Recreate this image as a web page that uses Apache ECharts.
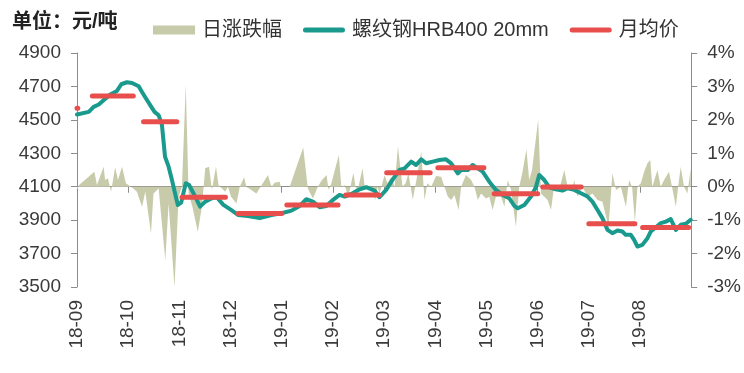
<!DOCTYPE html>
<html>
<head>
<meta charset="utf-8">
<script src="https://cdn.jsdelivr.net/npm/echarts@6/dist/echarts.min.js"></script>
<style>
html,body{margin:0;padding:0;background:#fff;}
#chart{width:744px;height:373px;}
</style>
</head>
<body>
<div id="chart"></div>
<script>
// x positions are trading-day indices (0..240), tick every 20 trading days
var tickLabels = ['18-09','18-10','18-11','18-12','19-01','19-02','19-03','19-04','19-05','19-06','19-07','19-08',''];

// 螺纹钢HRB400 20mm price (元/吨)
var priceIdx = [0,4.6,6.5,8.5,10.4,13.0,15.6,17.3,19.5,21.5,24.1,25.4,26.6,28.6,30.3,31.9,33.2,34.4,35.8,37.1,38.3,39.4,40.7,42.5,43.8,45.5,48.1,50.1,52.7,54.6,57.2,60.2,62.9,66.8,71.4,76.0,79.9,83.8,87.0,89.6,92.2,94.8,97.4,100.0,102.6,104.6,107.2,110.4,113.0,116.3,118.2,120.8,123.4,126.0,128.0,130.6,132.5,134.5,136.4,139.0,141.6,144.2,146.2,148.8,150.1,152.7,154.6,156.6,158.5,161.1,163.7,166.3,168.9,170.9,172.2,174.8,177.4,179.3,180.6,182.6,184.5,187.1,189.7,191.7,194.3,196.9,199.5,201.4,203.4,205.3,207.3,209.2,211.2,213.1,214.4,216.4,217.7,219.0,220.9,222.9,224.2,226.2,228.1,230.1,232.0,234.0,235.9,237.9,239.8];
var priceVal = [4532,4548,4578,4592,4618,4652,4673,4713,4725,4721,4701,4667,4637,4588,4548,4528,4468,4279,4220,4140,4061,3991,4005,4121,4110,4061,3981,4011,4031,4037,3991,3961,3931,3925,3912,3931,3941,3957,3985,4025,4011,3977,3985,4021,4051,4041,4057,4085,4097,4077,4037,4081,4144,4200,4210,4250,4230,4264,4240,4250,4260,4264,4240,4180,4200,4200,4230,4210,4190,4130,4081,4051,4031,3985,3971,3991,4041,4097,4170,4140,4097,4085,4077,4091,4081,4061,4041,4011,3961,3912,3842,3822,3838,3832,3812,3812,3782,3742,3752,3792,3832,3858,3882,3891,3906,3842,3872,3878,3902];

// 日涨跌幅 (%)
var chgIdx = [0,0.8,6.8,7.8,10.4,11.0,12.1,13.3,14.9,16.0,17.6,19.1,21.5,23.4,25.4,26.7,28.9,29.9,31.9,34.5,35.8,38.1,39.7,41.0,42.5,43.6,45.1,47.2,48.8,50.1,51.6,52.7,54.3,55.3,57.9,59.0,60.2,62.3,63.6,65.3,66.2,70.1,74.6,76.0,77.2,79.2,79.6,83.1,88.4,90.2,92.2,94.1,95.5,97.5,98.3,99.4,102.3,103.3,104.6,106.0,108.0,108.8,109.7,111.6,112.4,113.9,114.7,116.5,117.4,118.2,120.2,121.3,122.8,124.1,125.4,127.2,128.4,129.5,131.2,132.5,134.5,135.8,136.9,138.4,140.3,142.3,143.6,144.9,146.2,147.5,149.1,150.1,152.0,154.0,155.3,156.6,157.9,159.8,161.1,162.4,163.7,165.7,167.0,168.3,169.6,171.5,172.8,174.1,175.6,176.7,177.8,180.2,181.3,182.6,183.9,185.2,186.5,188.4,190.4,191.7,193.5,194.3,195.5,197.5,199.5,201.4,203.4,205.3,207.7,209.2,210.6,212.5,214.5,215.7,216.9,218.0,219.0,220.3,221.6,222.9,224.0,224.8,226.8,228.1,229.4,231.3,232.5,234.0,234.9,235.9,237.2,238.5,239.8];
var chgPct = [-0.1,0.05,0.45,0.05,0.6,0.2,0.25,-0.15,0.58,0.2,0.6,0.1,-0.02,-0.15,-0.6,-0.15,-1.4,-0.2,-0.05,-2.2,-0.5,-3.0,-0.3,0,3.05,-0.2,-0.6,-1.35,-0.6,0.55,0.6,-0.1,0.6,0.05,-0.15,0,-0.3,-0.5,0,0.28,0,-0.2,0.35,0,0.12,0.15,0,0,1.17,-0.05,-0.35,0,0.18,0.35,-0.1,0.1,0.95,0,0.05,-0.3,0.42,0,-0.1,0.55,0,-0.1,0.05,-0.4,0,-0.2,0.35,0.1,0.3,0,1.2,0,0.1,0.4,-0.38,0.15,1.05,-0.4,0.1,0,0.32,0.3,0,-0.3,-0.4,-0.25,-0.7,0,0.35,0.2,0,-0.4,-0.2,-0.35,-0.3,-0.7,-0.3,-0.3,-0.6,0.2,-0.1,-1.2,0,0.45,1.12,0.2,0.5,2.0,-0.2,-0.3,-0.4,-0.7,0.05,-0.1,0.5,0,-0.1,0.2,-0.3,0,-0.3,-0.2,-0.4,-0.45,-1.2,0.4,-0.1,0,-0.6,0.2,0,-1.05,0,0.1,0.45,0.7,0.8,0,0.5,0,0.2,0.45,0,-0.6,0,0.6,0,-0.2,0.55];

// 月均价: each month's first and last trading-day index and its average price
var monthStart = [0,6,26,41,63,82,105,121,141,163,182,200,221];
var monthEnd   = [0.3,22,39,58,80,102,118,138,159,180,197,218,239];
var monthAvg   = [4570,4643,4488,4037,3939,3991,4051,4184,4214,4058,4098,3878,3856];

var priceData = priceIdx.map(function(x,i){return [x, priceVal[i]];});
var chgData = chgIdx.map(function(x,i){return [x, chgPct[i]];});
var avgData = [];
monthStart.forEach(function(s,i){
  avgData.push([s, monthAvg[i]]);
  avgData.push([monthEnd[i], monthAvg[i]]);
  avgData.push([monthEnd[i] + 0.5, '-']);
});

var FONT = "'Liberation Sans','Noto Sans CJK SC',sans-serif";
var axisColor = '#8c8c8c';
var labelColor = '#3a3a3a';
var LINE_ICON = 'path://M2.5,0H39.5A2.5,2.5 0 0 1 39.5,5H2.5A2.5,2.5 0 0 1 2.5,0Z';

var chart = echarts.init(document.getElementById('chart'), null, {renderer:'canvas'});
chart.setOption({
  animation: false,
  backgroundColor: '#fff',
  textStyle: {fontFamily: FONT},
  title: {
    text: '单位：元/吨', left: 7, top: 7,
    textStyle: {fontSize: 20, fontWeight: 'bold', color: '#222', fontFamily: FONT}
  },
  legend: {
    left: 148, top: 15,
    itemWidth: 42, itemHeight: 9, itemGap: 21,
    textStyle: {fontSize: 20, color: '#333', fontFamily: FONT, padding:[0,0,0,2]},
    data: [
      {name: '日涨跌幅', icon: 'rect'},
      {name: '螺纹钢HRB400 20mm', icon: LINE_ICON},
      {name: '月均价', icon: LINE_ICON}
    ]
  },
  grid: {left: 77, right: 52, top: 53, bottom: 86, containLabel: false},
  xAxis: {
    type: 'value', min: 0, max: 240, interval: 20,
    axisLine: {show: true, lineStyle: {color: axisColor, width: 1}},
    axisTick: {show: true, length: 6, lineStyle: {color: axisColor}},
    splitLine: {show: false},
    axisLabel: {
      rotate: 90, margin: 13, fontSize: 19, color: labelColor, fontFamily: FONT,
      formatter: function(v){ return tickLabels[Math.round(v/20)] || ''; }
    }
  },
  yAxis: [
    {
      type: 'value', min: 3500, max: 4900, interval: 200, position: 'left',
      axisLine: {show: true, lineStyle: {color: axisColor, width: 1}},
      axisTick: {show: true, length: 6, lineStyle: {color: axisColor}},
      splitLine: {show: false},
      axisLabel: {margin: 16, fontSize: 19, color: labelColor, fontFamily: FONT,
        formatter: function(v){ return String(v); }}
    },
    {
      type: 'value', min: -3, max: 4, interval: 1, position: 'right',
      axisLine: {show: true, lineStyle: {color: axisColor, width: 1}},
      axisTick: {show: true, length: 6, lineStyle: {color: axisColor}},
      splitLine: {show: false},
      axisLabel: {margin: 16, fontSize: 19, color: labelColor, fontFamily: FONT,
        formatter: function(v){ return v + '%'; }}
    }
  ],
  series: [
    {
      name: '日涨跌幅', type: 'line', yAxisIndex: 1, data: chgData,
      symbol: 'none', showSymbol: false,
      itemStyle: {color: '#c8cbaa'},
      lineStyle: {width: 0, color: '#c8cbaa'},
      areaStyle: {color: '#c8cbaa', opacity: 1, origin: 0},
      emphasis: {disabled: true}, z: 1
    },
    {
      name: '螺纹钢HRB400 20mm', type: 'line', yAxisIndex: 0, data: priceData,
      symbol: 'none', showSymbol: false,
      itemStyle: {color: '#1a9a8d'},
      lineStyle: {width: 4, color: '#1a9a8d', join: 'round', cap: 'round'},
      emphasis: {disabled: true}, z: 2
    },
    {
      name: '月均价', type: 'line', yAxisIndex: 0, data: avgData,
      symbol: 'none', showSymbol: false, connectNulls: false,
      itemStyle: {color: '#e84e4b'},
      lineStyle: {width: 5, color: '#e84e4b', cap: 'round'},
      emphasis: {disabled: true}, z: 3
    }
  ]
});
</script>
</body>
</html>
